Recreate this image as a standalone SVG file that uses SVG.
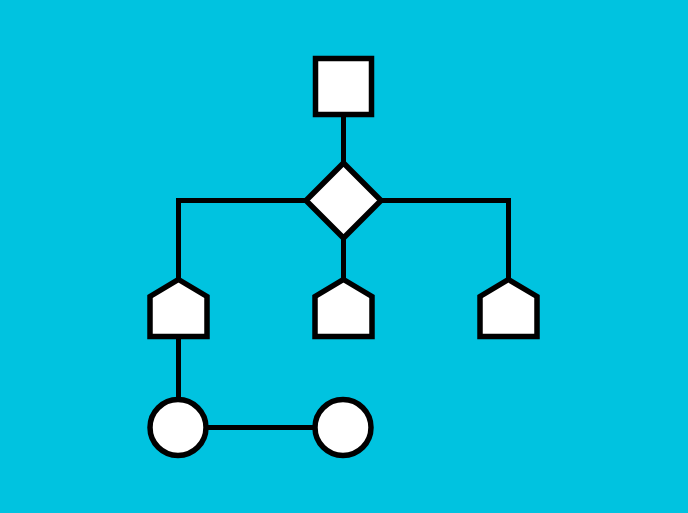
<svg xmlns="http://www.w3.org/2000/svg" width="688" height="513" viewBox="0 0 688 513">
  <style>
    .shape { fill: #ffffff; stroke: #000000; stroke-width: 5.5; stroke-linejoin: miter; }
    .wire { fill: none; stroke: #000000; stroke-width: 5; }
  </style>
  <defs>
    <path id="house" d="M0,-30.5 L28.5,-13.5 L28.5,26.5 L-28.5,26.5 L-28.5,-13.5 Z"/>
  </defs>
  <rect width="688" height="513" fill="#00c3e0"/>
  <g id="connectors" class="wire">
    <line x1="343.5" y1="116" x2="343.5" y2="163"/>
    <polyline points="178.5,280 178.5,200.5 508.5,200.5 508.5,280"/>
    <line x1="343.5" y1="238" x2="343.5" y2="280"/>
    <line x1="178.5" y1="337" x2="178.5" y2="398"/>
    <line x1="178" y1="427.5" x2="343" y2="427.5"/>
  </g>
  <g id="root">
    <rect class="shape" x="315.5" y="58.5" width="56" height="56"/>
  </g>
  <g id="decision">
    <polygon class="shape" points="343.5,163 381,200.5 343.5,238 306,200.5"/>
  </g>
  <g id="branch-left">
    <use href="#house" class="shape" x="178.5" y="310"/>
  </g>
  <g id="branch-middle">
    <use href="#house" class="shape" x="343.5" y="310"/>
  </g>
  <g id="branch-right">
    <use href="#house" class="shape" x="508.5" y="310"/>
  </g>
  <g id="leaf-left">
    <circle class="shape" cx="178" cy="427.5" r="28"/>
  </g>
  <g id="leaf-right">
    <circle class="shape" cx="343" cy="427.5" r="28"/>
  </g>
</svg>
